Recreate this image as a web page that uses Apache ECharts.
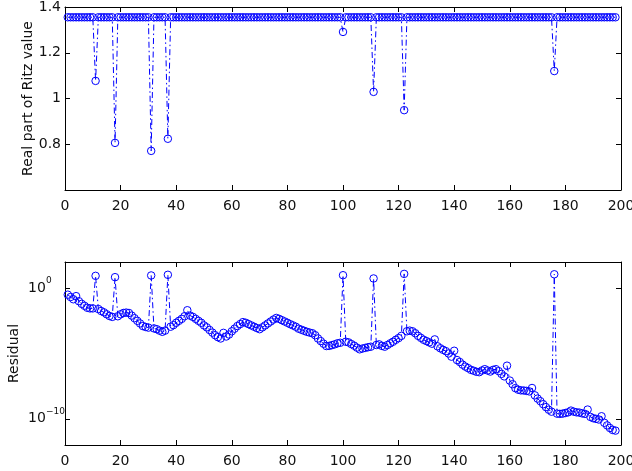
<!DOCTYPE html>
<html><head><meta charset="utf-8">
<script src="https://cdn.jsdelivr.net/npm/echarts@6/dist/echarts.min.js"></script>
<style>html,body{margin:0;padding:0;background:#fff}#c{width:632px;height:471px}</style>
</head><body><div id="c"></div>
<script>
// Iteration axis
const xMin = 0, xMax = 200, xStep = 20;
// Top panel: real part of Ritz value per iteration (1..198)
const ritzReal = [
1.355,1.355,1.355,1.355,1.355,1.355,1.355,1.355,1.355,1.355,
1.077,1.355,1.355,1.355,1.355,1.355,1.355,0.806,1.355,1.355,
1.355,1.355,1.355,1.355,1.355,1.355,1.355,1.355,1.355,1.355,
0.771,1.355,1.355,1.355,1.355,1.355,0.824,1.355,1.355,1.355,
1.355,1.355,1.355,1.355,1.355,1.355,1.355,1.355,1.355,1.355,
1.355,1.355,1.355,1.355,1.355,1.355,1.355,1.355,1.355,1.355,
1.355,1.355,1.355,1.355,1.355,1.355,1.355,1.355,1.355,1.355,
1.355,1.355,1.355,1.355,1.355,1.355,1.355,1.355,1.355,1.355,
1.355,1.355,1.355,1.355,1.355,1.355,1.355,1.355,1.355,1.355,
1.355,1.355,1.355,1.355,1.355,1.355,1.355,1.355,1.355,1.291,
1.355,1.355,1.355,1.355,1.355,1.355,1.355,1.355,1.355,1.355,
1.029,1.355,1.355,1.355,1.355,1.355,1.355,1.355,1.355,1.355,
1.355,0.949,1.355,1.355,1.355,1.355,1.355,1.355,1.355,1.355,
1.355,1.355,1.355,1.355,1.355,1.355,1.355,1.355,1.355,1.355,
1.355,1.355,1.355,1.355,1.355,1.355,1.355,1.355,1.355,1.355,
1.355,1.355,1.355,1.355,1.355,1.355,1.355,1.355,1.355,1.355,
1.355,1.355,1.355,1.355,1.355,1.355,1.355,1.355,1.355,1.355,
1.355,1.355,1.355,1.355,1.355,1.12,1.355,1.355,1.355,1.355,
1.355,1.355,1.355,1.355,1.355,1.355,1.355,1.355,1.355,1.355,
1.355,1.355,1.355,1.355,1.355,1.355,1.355,1.355
];
// Bottom panel: residual per iteration (1..198)
const residual = [
3.16e-1,2.09e-1,1.41e-1,2.45e-1,1.0e-1,6.31e-2,4.47e-2,3.16e-2,2.82e-2,2.82e-2,
8.71,2.51e-2,1.78e-2,1.41e-2,1.0e-2,7.41e-3,6.31e-3,6.92,7.08e-3,1.0e-2,
1.26e-2,1.35e-2,1.26e-2,7.94e-3,5.01e-3,3.16e-3,2.0e-3,1.26e-3,1.07e-3,9.55e-4,
9.33,8.32e-4,7.24e-4,5.62e-4,4.57e-4,5.62e-4,10.5,1.12e-3,1.48e-3,2.24e-3,
3.16e-3,4.47e-3,7.08e-3,2.04e-2,7.94e-3,6.31e-3,4.47e-3,3.16e-3,2.24e-3,1.41e-3,
1.0e-3,6.31e-4,3.98e-4,2.51e-4,1.78e-4,1.41e-4,3.80e-4,2.0e-4,2.82e-4,5.01e-4,
7.94e-4,1.26e-3,1.78e-3,2.51e-3,2.24e-3,1.78e-3,1.41e-3,1.12e-3,8.91e-4,7.24e-4,
1.0e-3,1.41e-3,2.0e-3,2.82e-3,3.98e-3,5.25e-3,4.47e-3,3.55e-3,2.82e-3,2.24e-3,
1.74e-3,1.41e-3,1.12e-3,7.94e-4,6.61e-4,5.50e-4,4.57e-4,3.98e-4,3.55e-4,2.51e-4,
1.41e-4,8.91e-5,5.62e-5,3.72e-5,3.80e-5,4.37e-5,5.01e-5,6.03e-5,6.61e-5,9.77,
7.94e-5,7.08e-5,5.25e-5,3.98e-5,2.82e-5,2.09e-5,2.40e-5,2.69e-5,3.02e-5,3.31e-5,
5.50,4.47e-5,5.01e-5,3.80e-5,3.31e-5,4.47e-5,6.03e-5,7.94e-5,1.12e-4,1.51e-4,
2.24e-4,12.3,5.01e-4,5.62e-4,5.01e-4,3.55e-4,2.24e-4,1.58e-4,1.12e-4,8.91e-5,
7.08e-5,5.62e-5,1.20e-4,3.55e-5,2.51e-5,1.91e-5,1.51e-5,1.0e-5,5.75e-6,1.62e-5,
3.16e-6,2.24e-6,1.41e-6,1.0e-6,7.59e-7,5.62e-7,4.79e-7,3.98e-7,3.72e-7,5.01e-7,
6.31e-7,5.01e-7,4.17e-7,5.62e-7,6.31e-7,4.47e-7,2.75e-7,1.78e-7,1.17e-6,8.51e-8,
4.47e-8,2.24e-8,1.70e-8,1.51e-8,1.48e-8,1.38e-8,1.26e-8,2.29e-8,6.31e-9,3.55e-9,
2.24e-9,1.32e-9,7.94e-10,5.01e-10,3.55e-10,11.5,2.51e-10,2.40e-10,2.51e-10,2.82e-10,
3.16e-10,4.27e-10,3.55e-10,3.16e-10,3.02e-10,2.63e-10,2.40e-10,5.13e-10,1.41e-10,1.12e-10,
1.0e-10,8.91e-11,1.58e-10,5.01e-11,3.16e-11,2.0e-11,1.41e-11,1.26e-11
];
const ritzRange = [0.6, 1.4], ritzStep = 0.2;
const residualRange = [1e-12, 1e2];
const residualTickValues = [1e-10, 1];

const FONT = 'DejaVu Sans, Liberation Sans, Arial, sans-serif';
const BLUE = '#0000ff';
const AXC = '#000';
const TXT = '#111';

const ritzData = ritzReal.map((v, i) => [i + 1, v]);
const resData = residual.map((v, i) => [i + 1, v]);

const tick = {show: true, inside: true, length: 5, lineStyle: {color: AXC, width: 1}};
const line = {show: true, onZero: false, lineStyle: {color: AXC, width: 1}};
const lbl = {color: TXT, fontFamily: FONT, fontSize: 14};

function xAx(grid, pos, showLabel) {
  return {type: 'value', gridIndex: grid, position: pos, min: xMin, max: xMax, interval: xStep,
    axisLine: line, axisTick: tick, splitLine: {show: false},
    axisLabel: Object.assign({show: showLabel, margin: 9}, lbl)};
}
function expText(v) {
  const e = Math.round(Math.log10(v));
  return e < 0 ? '\u2212' + (-e) : String(e);
}
function logAx(pos, extra) {
  return Object.assign({type: 'log', logBase: 10, gridIndex: 1, position: pos,
    min: residualRange[0], max: residualRange[1], splitLine: {show: false}}, extra);
}

const series = (xi, yi, data) => ({
  type: 'line', xAxisIndex: xi, yAxisIndex: yi, data: data,
  symbol: 'circle', symbolSize: 7.5,
  itemStyle: {color: 'rgba(0,0,0,0)', borderColor: BLUE, borderWidth: 1},
  lineStyle: {color: BLUE, width: 1, type: [6, 3, 1.5, 3]},
  animation: false, silent: true, z: 3
});

const option = {
  backgroundColor: '#fff',
  animation: false,
  grid: [
    {left: 65, right: 11, top: 7, height: 183, containLabel: false, outerBoundsMode: 'none'},
    {left: 65, right: 11, top: 262, height: 183, containLabel: false, outerBoundsMode: 'none'}
  ],
  xAxis: [xAx(0, 'bottom', true), xAx(0, 'top', false), xAx(1, 'bottom', true), xAx(1, 'top', false)],
  yAxis: [
    {type: 'value', gridIndex: 0, position: 'left', min: ritzRange[0], max: ritzRange[1], interval: ritzStep,
     axisLine: line, axisTick: tick, splitLine: {show: false},
     axisLabel: Object.assign({margin: 4, showMinLabel: false, formatter: v => String(+v.toFixed(1))}, lbl),
     name: 'Real part of Ritz value', nameLocation: 'middle', nameGap: 30, nameMoveOverlap: false,
     nameTextStyle: {color: TXT, fontFamily: FONT, fontSize: 14}},
    {type: 'value', gridIndex: 0, position: 'right', min: ritzRange[0], max: ritzRange[1], interval: ritzStep,
     axisLine: line, axisTick: tick, splitLine: {show: false}, axisLabel: {show: false}},
    logAx('left', {
      axisLine: line, axisTick: Object.assign({customValues: residualTickValues}, tick),
      axisLabel: Object.assign({customValues: residualTickValues, align: 'left', margin: 37,
        formatter: () => '10'}, lbl),
      name: 'Residual', nameLocation: 'middle', nameGap: 44, nameMoveOverlap: false,
      nameTextStyle: {color: TXT, fontFamily: FONT, fontSize: 14}}),
    logAx('right', {
      axisLine: line, axisTick: Object.assign({customValues: residualTickValues}, tick),
      axisLabel: {show: false}}),
    // exponent (superscript) labels for the residual axis
    logAx('left', {
      axisLine: {show: false}, axisTick: {show: false},
      axisLabel: {customValues: residualTickValues, align: 'left', margin: 19, verticalAlign: 'bottom',
        padding: [0, 0, 3, 0], color: TXT, fontFamily: FONT, fontSize: 9, formatter: expText}})
  ],
  series: [series(0, 0, ritzData), series(2, 2, resData)]
};
const chart = echarts.init(document.getElementById('c'), null, {renderer: 'canvas'});
chart.setOption(option);
</script>
</body></html>
